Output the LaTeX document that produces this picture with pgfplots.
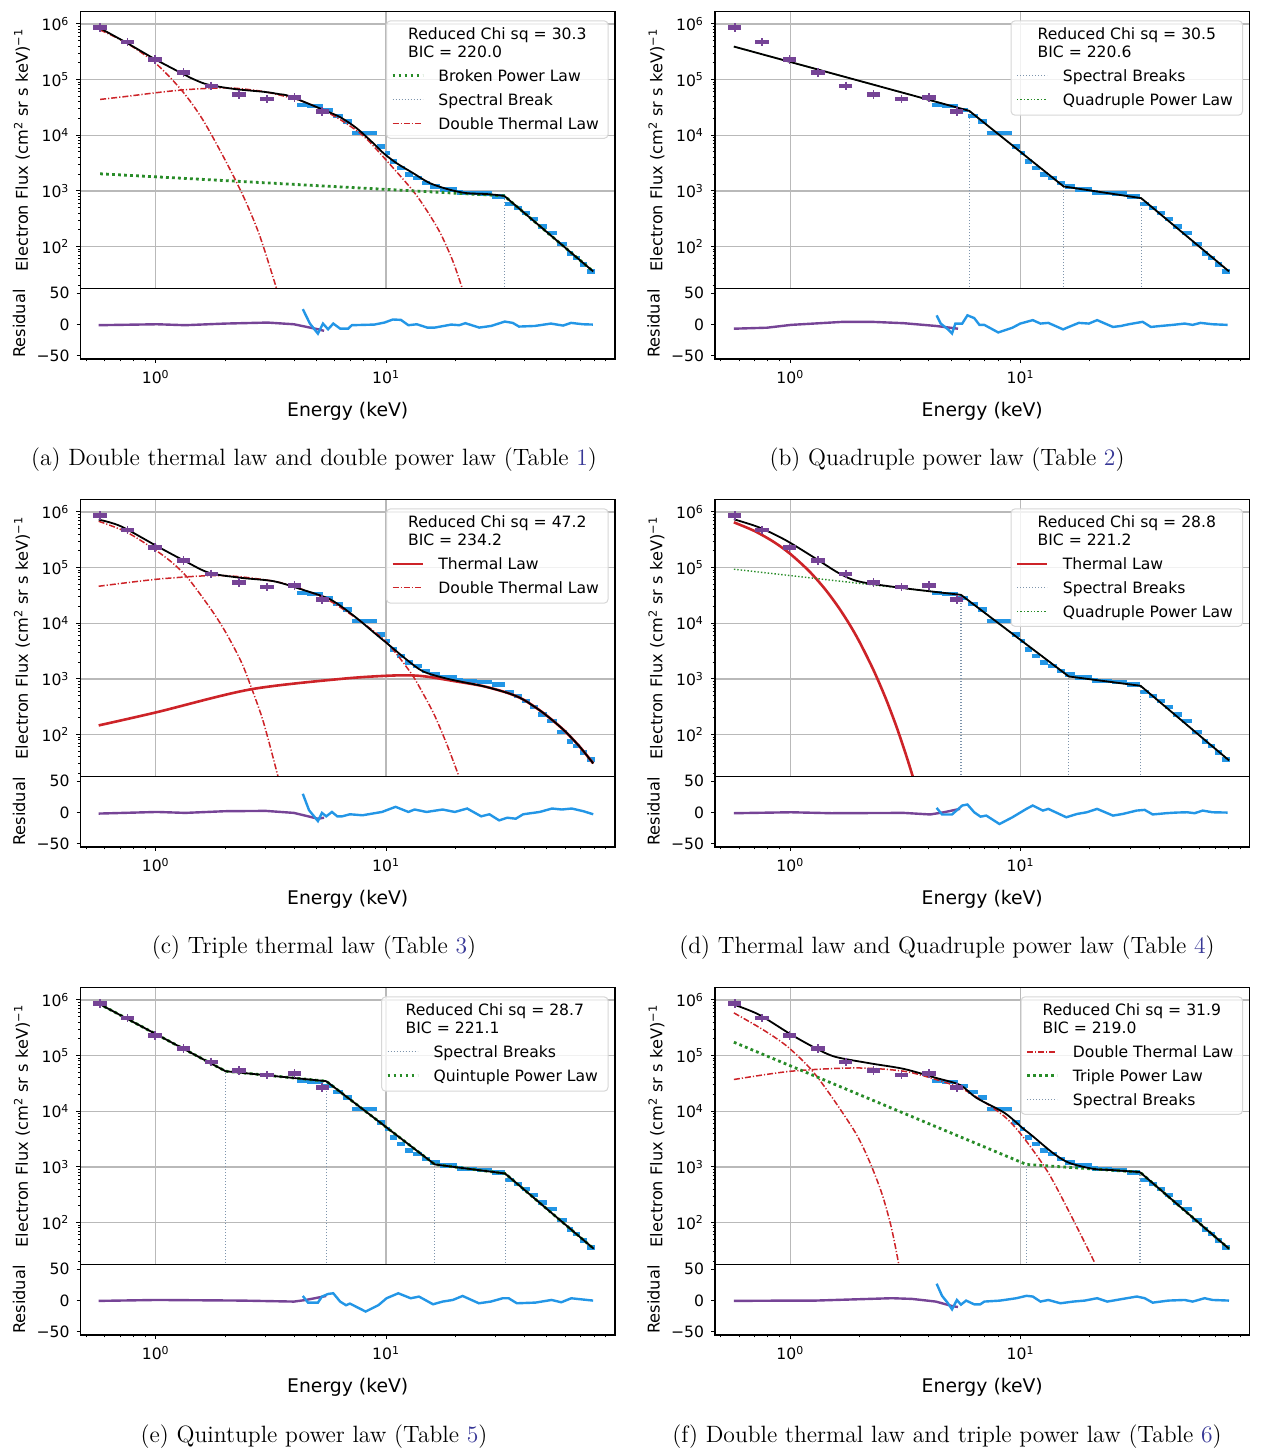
\documentclass[border=0pt]{standalone}
\usepackage{pgfplots}
\pgfplotsset{compat=1.18}
\usepackage{pgfplotstable}
\usepackage{fontspec}
\newfontfamily\dvs{DejaVu Sans}
\definecolor{cpurple}{RGB}{118,68,150}
\definecolor{cblue}{RGB}{35,150,230}
\definecolor{cred}{RGB}{205,35,40}
\definecolor{cgreen}{RGB}{40,140,40}
\definecolor{csteel}{RGB}{125,148,172}
\definecolor{tblue}{RGB}{55,55,150}
\definecolor{lgframe}{RGB}{215,215,215}
\newcommand\tickfont{\dvs\fontsize{7.8}{9}\selectfont}
\newcommand\ylfont{\dvs\fontsize{8.1}{9}\selectfont}
\newcommand\lgfont{\dvs\fontsize{7.8}{9}\selectfont}
\newcommand\xlfont{\dvs\fontsize{9.4}{11}\selectfont}
\newcommand\capfont{\fontsize{11.8}{14}\selectfont}
\tikzset{
 gdotthick/.style={color=cgreen, draw=cgreen, line width=1.4pt, dash pattern=on 1.4pt off 1.6pt},
 gdotthin/.style={color=cgreen, draw=cgreen, line width=0.7pt, dash pattern=on 0.7pt off 1.0pt},
 sbreak/.style={color=csteel, draw=csteel, line width=0.6pt, dash pattern=on 0.6pt off 0.9pt},
 rdashdot/.style={color=cred, draw=cred, line width=0.75pt, dash pattern=on 3pt off 1pt on 0.6pt off 1pt},
 rsolid/.style={color=cred, draw=cred, line width=1.3pt},
 blk/.style={color=black, line width=0.9pt},
 resp/.style={color=cpurple, line width=1.2pt},
 resb/.style={color=cblue, line width=1.2pt},
}
\newcommand\beginmain[1]{\begin{axis}[scale only axis, width=267.25pt, height=138.3pt,
   xmode=log, ymode=log, xmin=0.471, xmax=98.7, ymin=17.8, ymax=1.66e6,
   at={#1}, anchor=south west,
   tick pos=left, tick align=outside, major tick length=2pt, minor tick length=1.2pt,
   every tick/.append style={black, line width=0.5pt}, axis line style={line width=0.6pt},
   tick label style={font=\tickfont}, label style={font=\ylfont},
   xtick={1,10}, xticklabels={}, xmajorticks=false, xminorticks=false,
   ytick={100,1000,10000,100000,1000000},
   yticklabels={{10\textsuperscript{2}},{10\textsuperscript{3}},{10\textsuperscript{4}},{10\textsuperscript{5}},{10\textsuperscript{6}}},
   minor ytick={20,30,40,50,60,70,80,90,200,300,400,500,600,700,800,900,2000,3000,4000,5000,6000,7000,8000,9000,20000,30000,40000,50000,60000,70000,80000,90000,200000,300000,400000,500000,600000,700000,800000,900000},
   grid=major, grid style={color=gray!55, line width=0.6pt},
   ylabel={Electron Flux (cm\textsuperscript{2} sr s keV)\textsuperscript{−1}},
   ylabel style={at={(axis description cs:-0.1094,0.5)}, anchor=center}]}
\newcommand\beginres[1]{\begin{axis}[scale only axis, width=267.25pt, height=35.35pt,
   xmode=log, xmin=0.471, xmax=98.7, ymin=-55, ymax=58,
   at={#1}, anchor=north west,
   tick pos=left, tick align=outside, major tick length=2pt, minor tick length=1.2pt,
   every tick/.append style={black, line width=0.5pt}, axis line style={line width=0.6pt},
   tick label style={font=\tickfont}, label style={font=\ylfont},
   xtick={1,10}, minor xtick={0.5,0.6,0.7,0.8,0.9,2,3,4,5,6,7,8,9,20,30,40,50,60,70,80,90},
   xticklabels={{10\textsuperscript{0}},{10\textsuperscript{1}}},
   ytick={-50,0,50}, yticklabels={−50,0,50},
   xlabel={Energy (keV)}, xlabel style={font=\xlfont, at={(axis description cs:0.5,-0.735)}, anchor=center},
   ylabel={Residual}, ylabel style={at={(axis description cs:-0.115,0.5)}, anchor=center}]}
\pgfplotstableread{
x y
0.573 8.6e5
0.753 4.69e5
0.993 2.29e5
1.318 1.34e5
1.74 7.7e4
2.30 5.4e4
3.04 4.45e4
4.0 4.8e4
5.29 2.66e4
}\purpledata
\pgfplotstableread{
x y
4.11 35100
4.54 33700
5.33 28600
5.89 22300
6.51 17600
7.12 10900
9.15 6270
9.91 4830
10.42 3370
11.17 2600
12.10 1950
13.11 1700
14.35 1380
15.52 1200
17.16 1050
20.34 936
21.60 913
24.85 887
28.87 792
32.87 586
35.96 491
38.96 399
42.21 312
45.71 230
50.02 175
55.3 111
61.1 74.3
64.9 62.2
69.6 47.1
74.6 35.7
81.0 35.7
}\bluedata
\newcommand\dataplots{%
 \addplot[cblue, line width=2.3pt, jump mark left] table {\bluedata};
 \addplot[only marks, mark=-, mark size=3.3pt, color=cpurple, mark options={line width=2.2pt}] table {\purpledata};
 \addplot[only marks, mark=|, mark size=2.1pt, color=cpurple, mark options={line width=0.9pt}] table {\purpledata};
}
\newcommand\markTR{\coordinate (TR) at (rel axis cs:0.987,0.967);}
% legend drawn outside the axis, from the corner TR named inside it
\newcommand\lgbox[5]{%
 \coordinate (TL) at ([xshift=-#1]TR);
 \draw[lgframe, line width=0.5pt, fill=white, fill opacity=0.8, rounded corners=2pt] (TL) rectangle ([yshift=-#2]TR);
 \node[anchor=base, inner sep=0pt, font=\lgfont, text=black] at ([shift={(#1/2,-9.15pt)}]TL) {\begin{tabular}[t]{@{}l@{}}Reduced Chi sq = #3\\[0.2pt]BIC = #4\end{tabular}};
 #5}
\newcommand\lgrow[3]{%
 \begin{scope}\draw[#2] ([shift={(3pt,-#1)}]TL) -- ++(15pt,0pt);\end{scope}
 \node[anchor=base west, inner sep=0pt, font=\lgfont, text=black] at ([shift={(25.75pt,-#1-2.85pt)}]TL) {#3};}
\begin{document}
\begin{tikzpicture}
\useasboundingbox (0,0) rectangle (630pt,725pt);
% ===================== (a)
\beginmain{(40.25pt,580.85pt)}
\dataplots
\addplot[rdashdot, smooth] coordinates {(0.573,7.8e5) (0.75,4.49e5) (1.0,1.95e5) (1.3,6.3e4) (1.6,1.9e4) (2.0,3.6e3) (2.4,800) (2.8,175) (3.2,32) (3.4,14)};
\addplot[rdashdot, smooth] coordinates {(0.573,4.4e4) (0.75,5.0e4) (1.0,5.8e4) (1.3,6.5e4) (1.75,7.0e4) (2.2,7.0e4) (3.0,6.0e4) (4.16,4.3e4) (5.08,3.1e4) (6.21,2.0e4) (7.58,1.15e4) (8.5,7.5e3) (10.4,3.0e3) (13.1,1.0e3) (15,450) (17.2,175) (19.5,55) (21.5,17)};
\addplot[gdotthick] coordinates {(0.573,2030) (32.6,815) (79.4,35.7)};
\addplot[sbreak] coordinates {(32.6,10) (32.6,815)};
\addplot[blk, smooth] coordinates {(0.573,8.37e5) (0.753,4.50e5) (0.993,2.32e5) (1.34,1.21e5) (1.48,9.9e4) (1.69,8.1e4) (2.21,6.75e4) (2.98,6.0e4) (3.41,5.5e4) (3.83,5.0e4) (5.34,2.86e4) (6.32,2.11e4) (7.45,1.34e4) (8.80,7.2e3) (9.74,4.78e3) (11.1,3.16e3) (13.1,2.09e3) (15.5,1.38e3) (18.9,1.05e3) (22.4,912) (27.4,877) (32.6,815)};
\addplot[blk] coordinates {(32.6,815) (79.4,35.7)};
\markTR
\end{axis}
\lgbox{110.75pt}{58.8pt}{30.3}{220.0}{\lgrow{27.5pt}{gdotthick}{Broken Power Law}\lgrow{39.4pt}{sbreak}{Spectral Break}\lgrow{51.3pt}{rdashdot}{Double Thermal Law}}
\beginres{(40.25pt,580.85pt)}
\addplot[resp] coordinates {(0.565,-1) (1.013,0.5) (1.343,-1) (2.0,1.6) (3.06,3.2) (3.98,0.5) (5.06,-7.5) (5.38,-10)};
\addplot[resb] coordinates {(4.35,24.7) (4.67,1.6) (5.06,-14.5) (5.32,1.6) (5.6,-7.5) (5.9,1.6) (6.32,-6.5) (6.85,-6.5) (7.1,-1) (8.9,0) (9.84,3.2) (10.7,8.1) (11.6,7.5) (12.5,-1) (13.6,0.5) (15.1,-4.8) (16.3,-4.8) (19.2,0) (20.8,-1) (22.1,2.2) (25.4,-4.8) (28.6,-2.2) (32.8,4.8) (35.5,2.7) (37.8,-3.2) (44.3,-2.2) (52.0,1.6) (58.7,-1.6) (63.6,2.7) (71.6,0.5) (79.1,0)};
\end{axis}
% ===================== (b)
\beginmain{(357.5pt,580.85pt)}
\dataplots
\addplot[gdotthin] coordinates {(0.569,3.92e5) (5.99,2.74e4) (15.38,1202) (33.4,741) (80.4,35.8)};
\addplot[sbreak] coordinates {(5.99,10) (5.99,2.74e4)};
\addplot[sbreak] coordinates {(15.38,10) (15.38,1202)};
\addplot[sbreak] coordinates {(33.4,10) (33.4,741)};
\addplot[blk] coordinates {(0.569,3.92e5) (5.99,2.74e4) (15.38,1202) (33.4,741) (80.4,35.8)};
\markTR
\end{axis}
\lgbox{115.75pt}{47.2pt}{30.5}{220.6}{\lgrow{27.5pt}{sbreak}{Spectral Breaks}\lgrow{39.4pt}{gdotthin}{Quadruple Power Law}}
\beginres{(357.5pt,580.85pt)}
\addplot[resp] coordinates {(0.569,-6.6) (0.792,-5) (1.008,-0.5) (1.70,4.4) (2.25,4.4) (3.11,2.2) (4.29,-2.2) (5.35,-6.6)};
\addplot[resb] coordinates {(4.32,14.8) (4.5,1.6) (4.84,-7.7) (5.04,-14.3) (5.21,1.6) (5.58,1.6) (5.88,14.8) (6.29,10.4) (6.63,-0.5) (6.96,-0.5) (8.0,-12.6) (9.22,-5) (9.97,1.6) (11.3,7.1) (12.2,1.6) (13.2,2.7) (15.3,-7.7) (16.2,-3.8) (17.9,2.7) (19.8,1.6) (21.5,7.1) (25.2,-3.8) (27.3,-2.2) (29.5,0.5) (33.9,4.4) (36.8,-3.8) (40.7,-2.2) (45.8,-0.5) (51.6,1.6) (55.9,-0.5) (60.5,2.7) (68.2,0.5) (79.3,-0.5)};
\end{axis}
% ===================== (c)
\beginmain{(40.25pt,336.85pt)}
\dataplots
\addplot[rdashdot, smooth] coordinates {(0.565,6.8e5) (0.75,4.3e5) (1.013,1.97e5) (1.2,1.15e5) (1.4,6.0e4) (1.78,1.54e4) (2.05,6.0e3) (2.36,1.95e3) (2.6,700) (2.88,215) (3.1,74) (3.39,18)};
\addplot[rdashdot, smooth] coordinates {(0.565,4.62e4) (1.05,6.27e4) (1.93,7.2e4) (3.25,5.69e4) (4.3,4.1e4) (5.73,2.49e4) (7.9,1.02e4) (10.1,4.45e3) (12.8,1.29e3) (14.5,540) (16.3,215) (18.5,62) (20.7,18)};
\addplot[rsolid, smooth] coordinates {(0.565,146) (1.013,253) (2.56,645) (6.45,1005) (10.9,1153) (14.4,1122) (19.8,912) (26.4,741) (33.6,562) (39.4,427) (48.1,246) (58.7,124) (69,62) (79.4,30.3)};
\addplot[blk, smooth] coordinates {(0.565,7.28e5) (0.705,5.53e5) (1.013,2.42e5) (1.343,1.30e5) (1.71,8.03e4) (2.36,6.53e4) (3.25,5.69e4) (4.31,4.04e4) (5.73,2.67e4) (7.28,1.34e4) (8.9,6.7e3) (10.45,3.87e3) (12.27,2.23e3) (14.4,1.38e3) (17.7,1.05e3) (21.6,875) (26.4,741) (33.6,562) (39.4,427) (48.1,246) (58.7,124) (69,62) (79.4,30.3)};
\markTR
\end{axis}
\lgbox{110.75pt}{47.2pt}{47.2}{234.2}{\lgrow{27.5pt}{rsolid}{Thermal Law}\lgrow{39.4pt}{rdashdot}{Double Thermal Law}}
\beginres{(40.25pt,336.85pt)}
\addplot[resp] coordinates {(0.565,-1.6) (1.013,1) (1.343,-0.5) (2.0,2.2) (3.0,2.7) (3.98,-0.5) (5.06,-9.8) (5.38,-8.2)};
\addplot[resb] coordinates {(4.35,30) (4.63,3.8) (5.06,-13.6) (5.27,-0.5) (5.5,-6) (5.82,1) (6.14,-6) (6.45,-6) (6.97,-2.7) (7.9,-4.3) (9.6,1) (11.0,9.2) (12.5,1) (13.3,4.9) (15.0,1) (17.6,4.9) (19.9,1) (22.5,6.5) (25.9,-6) (28.1,-2.7) (31.0,-12.5) (33.6,-8.2) (36.6,-9.8) (39.4,-2.7) (46.5,1) (52.6,6.5) (58,4.9) (64,6.5) (71.9,2.2) (79.4,-2.7)};
\end{axis}
% ===================== (d)
\beginmain{(357.5pt,336.85pt)}
\dataplots
\addplot[rsolid, smooth] coordinates {(0.569,6.5e5) (0.7,4.53e5) (0.85,2.87e5) (1.0,1.76e5) (1.2,8.86e4) (1.4,4.34e4) (1.6,2.08e4) (1.8,9.84e3) (2.0,4.59e3) (2.3,1.43e3) (2.6,441) (2.9,134) (3.2,40) (3.4,17.9)};
\addplot[gdotthin] coordinates {(0.569,9.35e4) (5.51,3.24e4) (16.2,1106) (33.2,752) (80.4,34.4)};
\addplot[sbreak] coordinates {(5.51,10) (5.51,3.24e4)};
\addplot[sbreak] coordinates {(16.2,10) (16.2,1106)};
\addplot[sbreak] coordinates {(33.2,10) (33.2,752)};
\addplot[blk, smooth] coordinates {(0.569,7.38e5) (0.730,5.3e5) (0.949,3.15e5) (1.284,1.47e5) (1.63,7.9e4) (1.998,5.6e4) (3.11,4.27e4) (5.51,3.24e4)};
\addplot[blk] coordinates {(5.51,3.24e4) (16.2,1106) (33.2,752) (80.4,34.4)};
\markTR
\end{axis}
\lgbox{115.75pt}{58.8pt}{28.8}{221.2}{\lgrow{27.5pt}{rsolid}{Thermal Law}\lgrow{39.4pt}{sbreak}{Spectral Breaks}\lgrow{51.3pt}{gdotthin}{Quadruple Power Law}}
\beginres{(357.5pt,336.85pt)}
\addplot[resp] coordinates {(0.569,-1) (1.008,0.5) (1.51,-1) (3.11,-0.5) (4.05,-3) (4.65,0.5) (5.46,6)};
\addplot[resb] coordinates {(4.32,7.5) (4.56,-3) (5.04,-3) (5.58,11.3) (5.88,12.9) (6.29,0.5) (6.7,-6.5) (7.1,-4.8) (8.1,-18.3) (9.22,-7.5) (10.6,5.9) (11.3,11.3) (12.5,3.2) (13.2,5.9) (15.8,-7.5) (17.6,-2.2) (19.4,0.5) (21.5,5.9) (25.2,-4.8) (27.8,-2.2) (31.9,3.2) (34.6,4.3) (37.5,-3) (42.9,-1) (47.3,0) (52.9,0.5) (57.0,-1) (61.8,3.2) (68.2,0.5) (79.3,0)};
\end{axis}
% ===================== (e)
\beginmain{(40.25pt,92.85pt)}
\dataplots
\addplot[gdotthick] coordinates {(0.565,8.6e5) (2.01,5.24e4) (5.50,3.47e4) (16.28,1107) (32.9,762) (79.8,33.9)};
\addplot[sbreak] coordinates {(2.01,10) (2.01,5.24e4)};
\addplot[sbreak] coordinates {(5.50,10) (5.50,3.47e4)};
\addplot[sbreak] coordinates {(16.28,10) (16.28,1107)};
\addplot[sbreak] coordinates {(32.9,10) (32.9,762)};
\addplot[blk] coordinates {(0.565,8.6e5) (2.01,5.24e4) (5.50,3.47e4) (16.28,1107) (32.9,762) (79.8,33.9)};
\markTR
\end{axis}
\lgbox{113.2pt}{47.2pt}{28.7}{221.1}{\lgrow{27.5pt}{sbreak}{Spectral Breaks}\lgrow{39.4pt}{gdotthick}{Quintuple Power Law}}
\beginres{(40.25pt,92.85pt)}
\addplot[resp] coordinates {(0.565,-0.5) (1.013,1) (2.36,0) (3.98,-1.6) (4.49,1) (5.5,7.4)};
\addplot[resb] coordinates {(4.35,7.4) (4.58,-3.2) (5.06,-3.2) (5.27,6.4) (5.6,10.6) (5.9,11.7) (6.32,-1.6) (6.7,-7.4) (6.97,-4.8) (8.15,-17.5) (9.26,-7.4) (10.05,3.7) (11.3,11.7) (12.8,3.7) (13.9,6.4) (16.0,-5.9) (17.6,-1.6) (19.5,1) (21.5,7.4) (25.3,-4.3) (28.5,-1.6) (32.1,3.7) (34.1,3.7) (37.0,-4.3) (44.6,-3.2) (52.3,1) (57.7,-2.7) (63.7,3.7) (79.3,0)};
\end{axis}
% ===================== (f)
\beginmain{(357.5pt,92.85pt)}
\dataplots
\addplot[rdashdot, smooth] coordinates {(0.569,5.85e5) (0.760,2.93e5) (0.968,1.47e5) (1.233,5.6e4) (1.507,1.86e4) (1.92,4.1e3) (2.2,1.3e3) (2.5,330) (2.75,80) (2.96,17.7)};
\addplot[rdashdot, smooth] coordinates {(0.569,3.72e4) (1.008,5.24e4) (1.92,6.0e4) (3.11,5.24e4) (4.29,3.72e4) (5.47,2.63e4) (6.68,1.63e4) (8.5,8.1e3) (10.2,3.56e3) (13.2,783) (16.9,114) (21.0,19)};
\addplot[gdotthick] coordinates {(0.569,1.74e5) (10.6,1107) (33.0,806) (80.4,33.9)};
\addplot[sbreak] coordinates {(10.6,10) (10.6,1107)};
\addplot[sbreak] coordinates {(33.0,10) (33.0,806)};
\addplot[blk, smooth] coordinates {(0.569,8.24e5) (0.730,5.46e5) (1.008,2.39e5) (1.284,1.37e5) (1.569,9.5e4) (2.25,7.2e4) (3.11,5.77e4) (4.29,3.98e4) (5.47,2.95e4) (6.43,1.74e4) (8.5,9.4e3) (10.2,5.0e3) (11.3,3.56e3) (13.8,1.79e3) (16.2,1.19e3) (20.6,925) (25.2,875) (33.0,806)};
\addplot[blk] coordinates {(33.0,806) (80.4,33.9)};
\markTR
\end{axis}
\lgbox{110.75pt}{58.8pt}{31.9}{219.0}{\lgrow{27.5pt}{rdashdot}{Double Thermal Law}\lgrow{39.4pt}{gdotthick}{Triple Power Law}\lgrow{51.3pt}{sbreak}{Spectral Breaks}}
\beginres{(357.5pt,92.85pt)}
\addplot[resp] coordinates {(0.569,-0.5) (1.008,0) (1.284,0) (2.76,3.8) (3.37,2.7) (4.29,-1.6) (5.04,-8.7) (5.35,-10.3)};
\addplot[resb] coordinates {(4.32,27) (4.56,7.6) (4.84,-4.3) (5.04,-14) (5.29,1) (5.51,-6.5) (5.8,0) (6.29,-6) (6.68,-6) (6.96,-1.6) (8.15,0) (9.6,3.8) (10.6,7.6) (11.3,6.5) (12.2,-1.6) (13.2,1) (14.9,-4.3) (16.9,-1.6) (19.0,0) (21.5,3.8) (23.8,-1.6) (27.3,2.2) (32.0,6.5) (34.6,3.8) (37.5,-3.3) (43.8,0) (51.6,1) (55.9,-1.6) (63.0,3.8) (68.2,1) (80.4,0)};
\end{axis}
% ===================== captions
\node[font=\capfont] at (157pt,495pt) {(a) Double thermal law and double power law (Table \textcolor{tblue}{1})};
\node[font=\capfont] at (473.5pt,495pt) {(b) Quadruple power law (Table \textcolor{tblue}{2})};
\node[font=\capfont] at (157pt,251pt) {(c) Triple thermal law (Table \textcolor{tblue}{3})};
\node[font=\capfont] at (473.5pt,251pt) {(d) Thermal law and Quadruple power law (Table \textcolor{tblue}{4})};
\node[font=\capfont] at (157pt,6.5pt) {(e) Quintuple power law (Table \textcolor{tblue}{5})};
\node[font=\capfont] at (473.5pt,6.5pt) {(f) Double thermal law and triple power law (Table \textcolor{tblue}{6})};
\end{tikzpicture}
\end{document}
